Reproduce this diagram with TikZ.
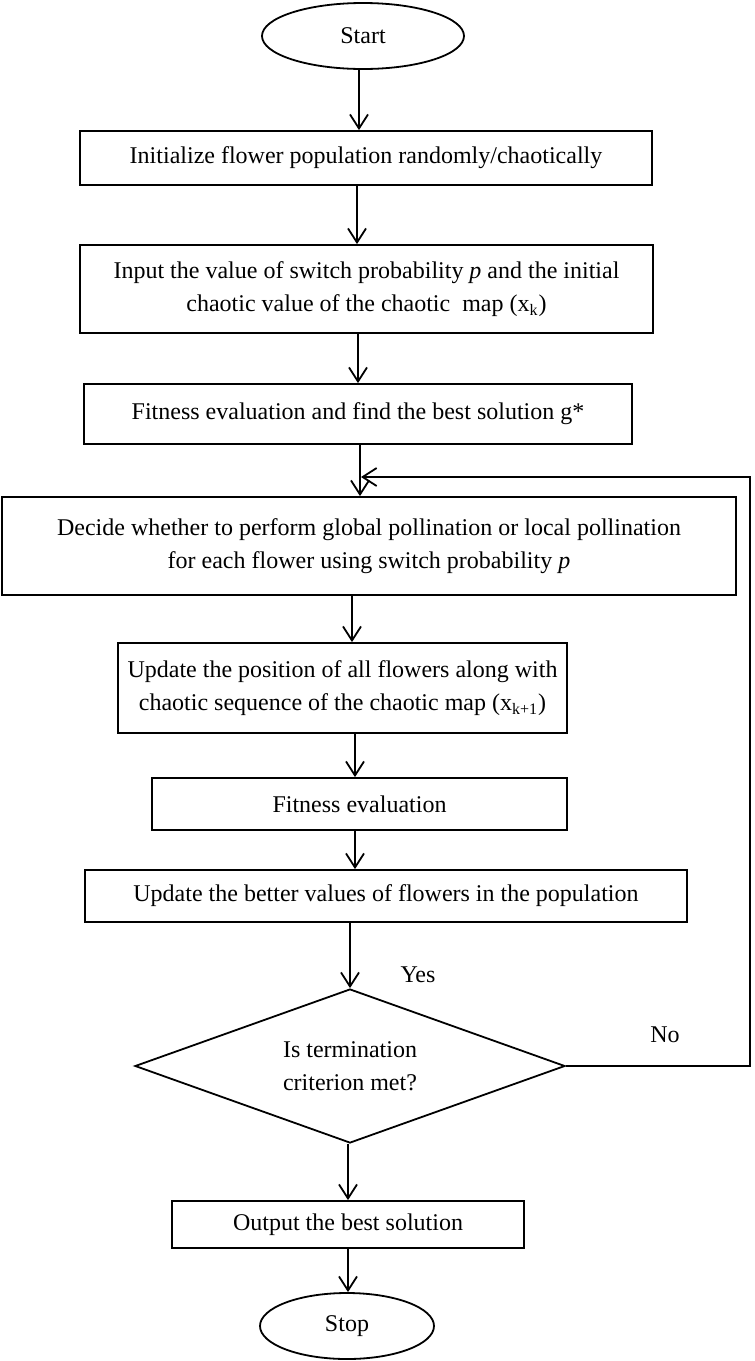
\documentclass[tikz,border=0pt]{standalone}
\usepackage{fontspec}
\setmainfont{Liberation Serif}
\usetikzlibrary{shapes.geometric,arrows.meta}
\tikzset{
	every node/.style={font=\fontsize{12}{16.5}\selectfont},
	blk/.style={draw, line width=0.9pt, rectangle, align=center, inner sep=0pt},
	term/.style={draw, line width=0.9pt, ellipse, inner sep=0pt},
	cond/.style={draw, line width=0.9pt, diamond, aspect=2.8, inner sep=0pt, align=center},
	arr/.style={-{Straight Barb[length=7pt,width=9pt]}, line width=0.9pt}
}
\begin{document}
\begin{tikzpicture}[x=0.5pt,y=-0.5pt]%flower pollination flowchart
	\useasboundingbox (0,0) rectangle (755,1361);
	\node[term, minimum width=101pt, minimum height=33pt] (start) at (363,36) {Start};
	\node[blk, minimum width=286pt, minimum height=27pt] (b1) at (366,158) {Initialize flower population randomly/chaotically};
	\node[blk, minimum width=286.5pt, minimum height=44pt] (b2) at (366.5,289) {Input the value of switch probability \textit{p} and the initial\\chaotic value of the chaotic~ map (x\textsubscript{k})};
	\node[blk, minimum width=274pt, minimum height=30pt] (b3) at (358,414) {Fitness evaluation and find the best solution g*};
	\node[blk, minimum width=367pt, minimum height=49pt] (b4) at (369,546) {Decide whether to perform global pollination or local pollination\\for each flower using switch probability \textit{p}};
	\node[blk, minimum width=224.5pt, minimum height=45pt] (b5) at (342.5,688) {Update the position of all flowers along with\\chaotic sequence of the chaotic map (x\textsubscript{k+1})};
	\node[blk, minimum width=207.5pt, minimum height=26pt] (b6) at (359.5,804) {Fitness evaluation};
	\node[blk, minimum width=301pt, minimum height=26pt] (b7) at (386,896) {Update the better values of flowers in the population};
	\node[cond, minimum width=215pt, minimum height=77pt] (dec) at (350,1066) {Is termination\\criterion met?};
	\node[blk, minimum width=176pt, minimum height=23.5pt] (b8) at (348,1224.5) {Output the best solution};
	\node[term, minimum width=87pt, minimum height=33pt] (stop) at (347,1326) {Stop};
	\node (yes) at (418,975) {Yes};
	\node (no) at (665,1035) {No};
	\foreach \a/\b/\x in {start/b1/359, b1/b2/357, b2/b3/358, b3/b4/360, b4/b5/352, b5/b6/355, b6/b7/355, b7/dec/350, dec/b8/348, b8/stop/348}
	\draw[arr] (\a.south -| \x,0) -- (\b.north -| \x,0);
	\coordinate (loop) at (361,477);
	\coordinate (rt) at (750,477);
	\draw[arr] (dec.east) -| (rt) -- (loop);
\end{tikzpicture}
\end{document}
